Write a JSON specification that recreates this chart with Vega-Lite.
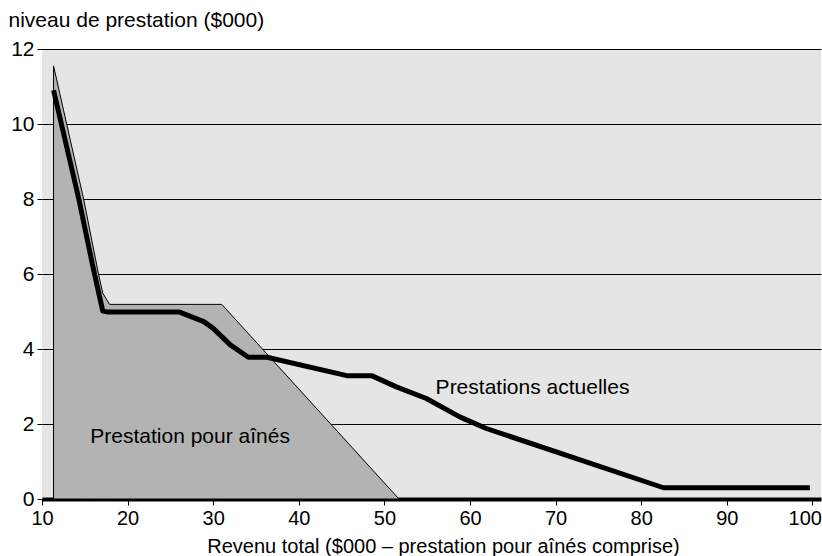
{
  "$schema": "https://vega.github.io/schema/vega-lite/v6.json",
  "width": 779,
  "height": 450,
  "autosize": {"type": "none"},
  "padding": {"left": 42, "top": 49, "right": 1, "bottom": 57},
  "background": "white",
  "config": {
    "view": {"fill": "#e5e5e5", "stroke": null},
    "font": "Liberation Sans",
    "axis": {"labelFont": "Liberation Sans", "titleFont": "Liberation Sans", "labelColor": "#000", "titleColor": "#000", "titleFontWeight": "normal"}
  },
  "datasets": {
    "aines": [
      {"revenu": 11.35, "prestation": 11.55},
      {"revenu": 14.86, "prestation": 8.0},
      {"revenu": 16.6, "prestation": 6.0},
      {"revenu": 17.1, "prestation": 5.49},
      {"revenu": 17.9, "prestation": 5.19},
      {"revenu": 31.0, "prestation": 5.19},
      {"revenu": 51.7, "prestation": 0}
    ],
    "actuelles": [
      {"revenu": 11.35, "prestation": 10.9},
      {"revenu": 14.3, "prestation": 8.0},
      {"revenu": 15.9, "prestation": 6.25},
      {"revenu": 17.1, "prestation": 5.01},
      {"revenu": 17.6, "prestation": 4.99},
      {"revenu": 26.0, "prestation": 4.99},
      {"revenu": 28.9, "prestation": 4.73},
      {"revenu": 30.0, "prestation": 4.55},
      {"revenu": 32.0, "prestation": 4.11},
      {"revenu": 34.1, "prestation": 3.78},
      {"revenu": 36.3, "prestation": 3.78},
      {"revenu": 45.6, "prestation": 3.29},
      {"revenu": 48.5, "prestation": 3.29},
      {"revenu": 51.4, "prestation": 2.99},
      {"revenu": 54.9, "prestation": 2.68},
      {"revenu": 58.8, "prestation": 2.19},
      {"revenu": 61.9, "prestation": 1.88},
      {"revenu": 82.6, "prestation": 0.3},
      {"revenu": 99.7, "prestation": 0.3}
    ],
    "etiquettes": [
      {"revenu": 27.3, "prestation": 1.65, "texte": "Prestation pour aînés"},
      {"revenu": 67.3, "prestation": 2.96, "texte": "Prestations actuelles"}
    ]
  },
  "layer": [
    {
      "data": {"name": "aines"},
      "mark": {"type": "area", "fill": "#b3b3b3", "stroke": "#000", "strokeWidth": 1, "fillOpacity": 1},
      "encoding": {
        "x": {
          "field": "revenu", "type": "quantitative",
          "scale": {"domain": [10, 101], "nice": false, "zero": false},
          "axis": {
            "values": [10, 20, 30, 40, 50, 60, 70, 80, 90, 100],
            "grid": false,
            "domain": true, "domainColor": "#000", "domainWidth": 4,
            "ticks": true, "tickColor": "#000", "tickSize": 6, "tickWidth": 1,
            "labelFontSize": 20, "labelPadding": 3, "labelFlush": false,
            "labelAlign": {"expr": "datum.value == 100 ? 'right' : 'center'"},
            "labelOffset": {"expr": "datum.value == 100 ? 9 : 0"},
            "title": "Revenu total ($000 – prestation pour aînés comprise)",
            "titleFontSize": 20,
            "titleX": 401, "titleY": 53, "titleAlign": "center", "titleBaseline": "alphabetic"
          }
        },
        "y": {
          "field": "prestation", "type": "quantitative",
          "scale": {"domain": [0, 12], "nice": false},
          "axis": {
            "values": [0, 2, 4, 6, 8, 10, 12],
            "grid": true, "gridColor": "#000", "gridWidth": 1, "gridOpacity": 1,
            "domain": false,
            "ticks": true, "tickColor": "#000", "tickSize": 5, "tickWidth": 1,
            "labelFontSize": 21, "labelPadding": 3,
            "title": "niveau de prestation ($000)",
            "titleFontSize": 21, "titleAngle": 0,
            "titleX": -34, "titleY": -23, "titleAlign": "left", "titleBaseline": "alphabetic"
          }
        }
      }
    },
    {
      "data": {"name": "actuelles"},
      "mark": {"type": "line", "color": "#000", "strokeWidth": 5, "strokeJoin": "round", "strokeCap": "butt"},
      "encoding": {
        "x": {"field": "revenu", "type": "quantitative"},
        "y": {"field": "prestation", "type": "quantitative"}
      }
    },
    {
      "data": {"name": "etiquettes"},
      "mark": {"type": "text", "fontSize": 21, "color": "#000", "align": "center", "baseline": "middle", "font": "Liberation Sans"},
      "encoding": {
        "x": {"field": "revenu", "type": "quantitative"},
        "y": {"field": "prestation", "type": "quantitative"},
        "text": {"field": "texte"}
      }
    }
  ]
}
